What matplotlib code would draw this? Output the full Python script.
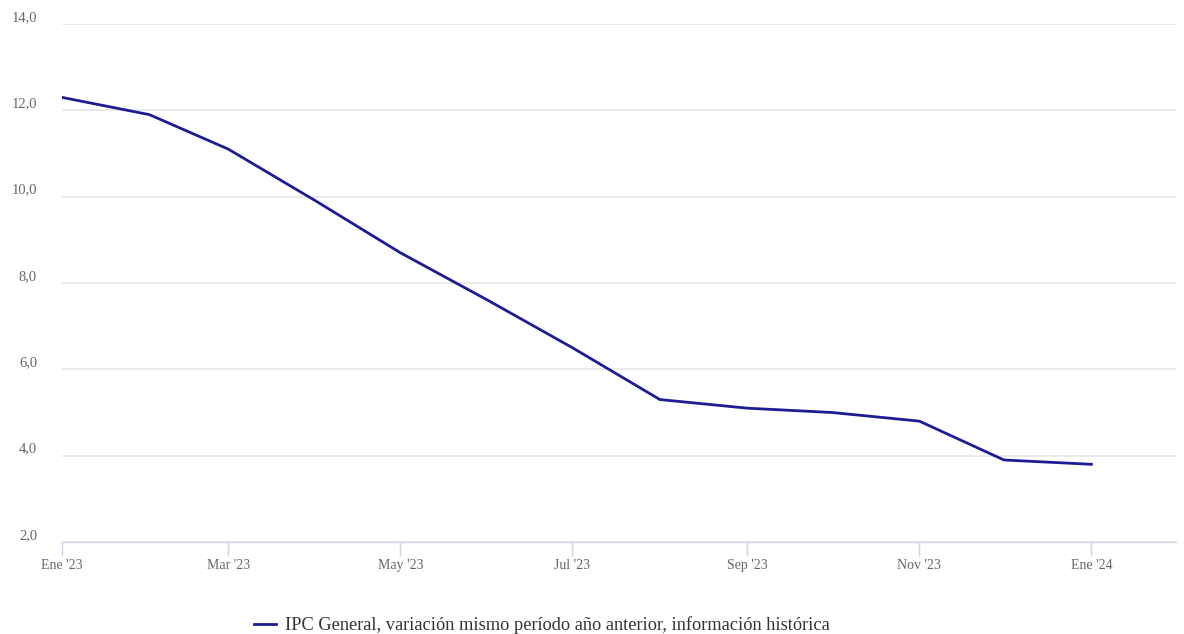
import matplotlib

matplotlib.use("Agg")
import matplotlib.pyplot as plt
import pandas as pd

dates = pd.date_range("2023-01-01", "2024-01-01", freq="MS")
ipc = [12.3, 11.9, 11.1, 9.9, 8.7, 7.6, 6.5, 5.3, 5.1, 5.0, 4.8, 3.9, 3.8]
tick_dates = dates[::2]
tick_labels = ["Ene '23", "Mar '23", "May '23", "Jul '23", "Sep '23", "Nov '23", "Ene '24"]
y_ticks = [2, 4, 6, 8, 10, 12, 14]
label = "IPC General, variación mismo período año anterior, información histórica"

plt.rcParams["font.family"] = ["Liberation Serif", "DejaVu Serif"]

fig = plt.figure(figsize=(11.84, 6.34), dpi=100)
ax = fig.add_axes([62 / 1184, 1 - 542 / 634, 1114 / 1184, 518 / 634])

line, = ax.plot(dates, ipc, color="#1c1c94", lw=2.0, solid_joinstyle="round")

ax.set_xlim(dates[0], pd.Timestamp("2024-01-31"))
ax.set_ylim(2, 14)
ax.set_yticks(y_ticks)
ax.set_yticklabels([f"{v:.1f}".replace(".", ",") for v in y_ticks])
ax.set_xticks(tick_dates)
ax.set_xticklabels(tick_labels)

ax.grid(axis="y", color="#e6e6e6", lw=1.2)
ax.set_axisbelow(True)
for side in ["top", "right", "left"]:
    ax.spines[side].set_visible(False)
ax.spines["bottom"].set_color("#ccd6eb")
ax.spines["bottom"].set_linewidth(1.0)
ax.tick_params(axis="x", length=10, width=1.0, color="#ccd6eb", labelcolor="#666666",
               labelsize=10, pad=2)
ax.tick_params(axis="y", length=0, labelcolor="#666666", labelsize=10.5, pad=18)
for t in ax.get_yticklabels():
    t.set_verticalalignment("bottom")

fig.legend([line], [label], loc="center", bbox_to_anchor=(542 / 1184, 1 - 625 / 634),
           frameon=False, fontsize=13.2, handlelength=1.2, handletextpad=0.5,
           labelcolor="#333333")

fig.savefig("out.png", dpi=100)
